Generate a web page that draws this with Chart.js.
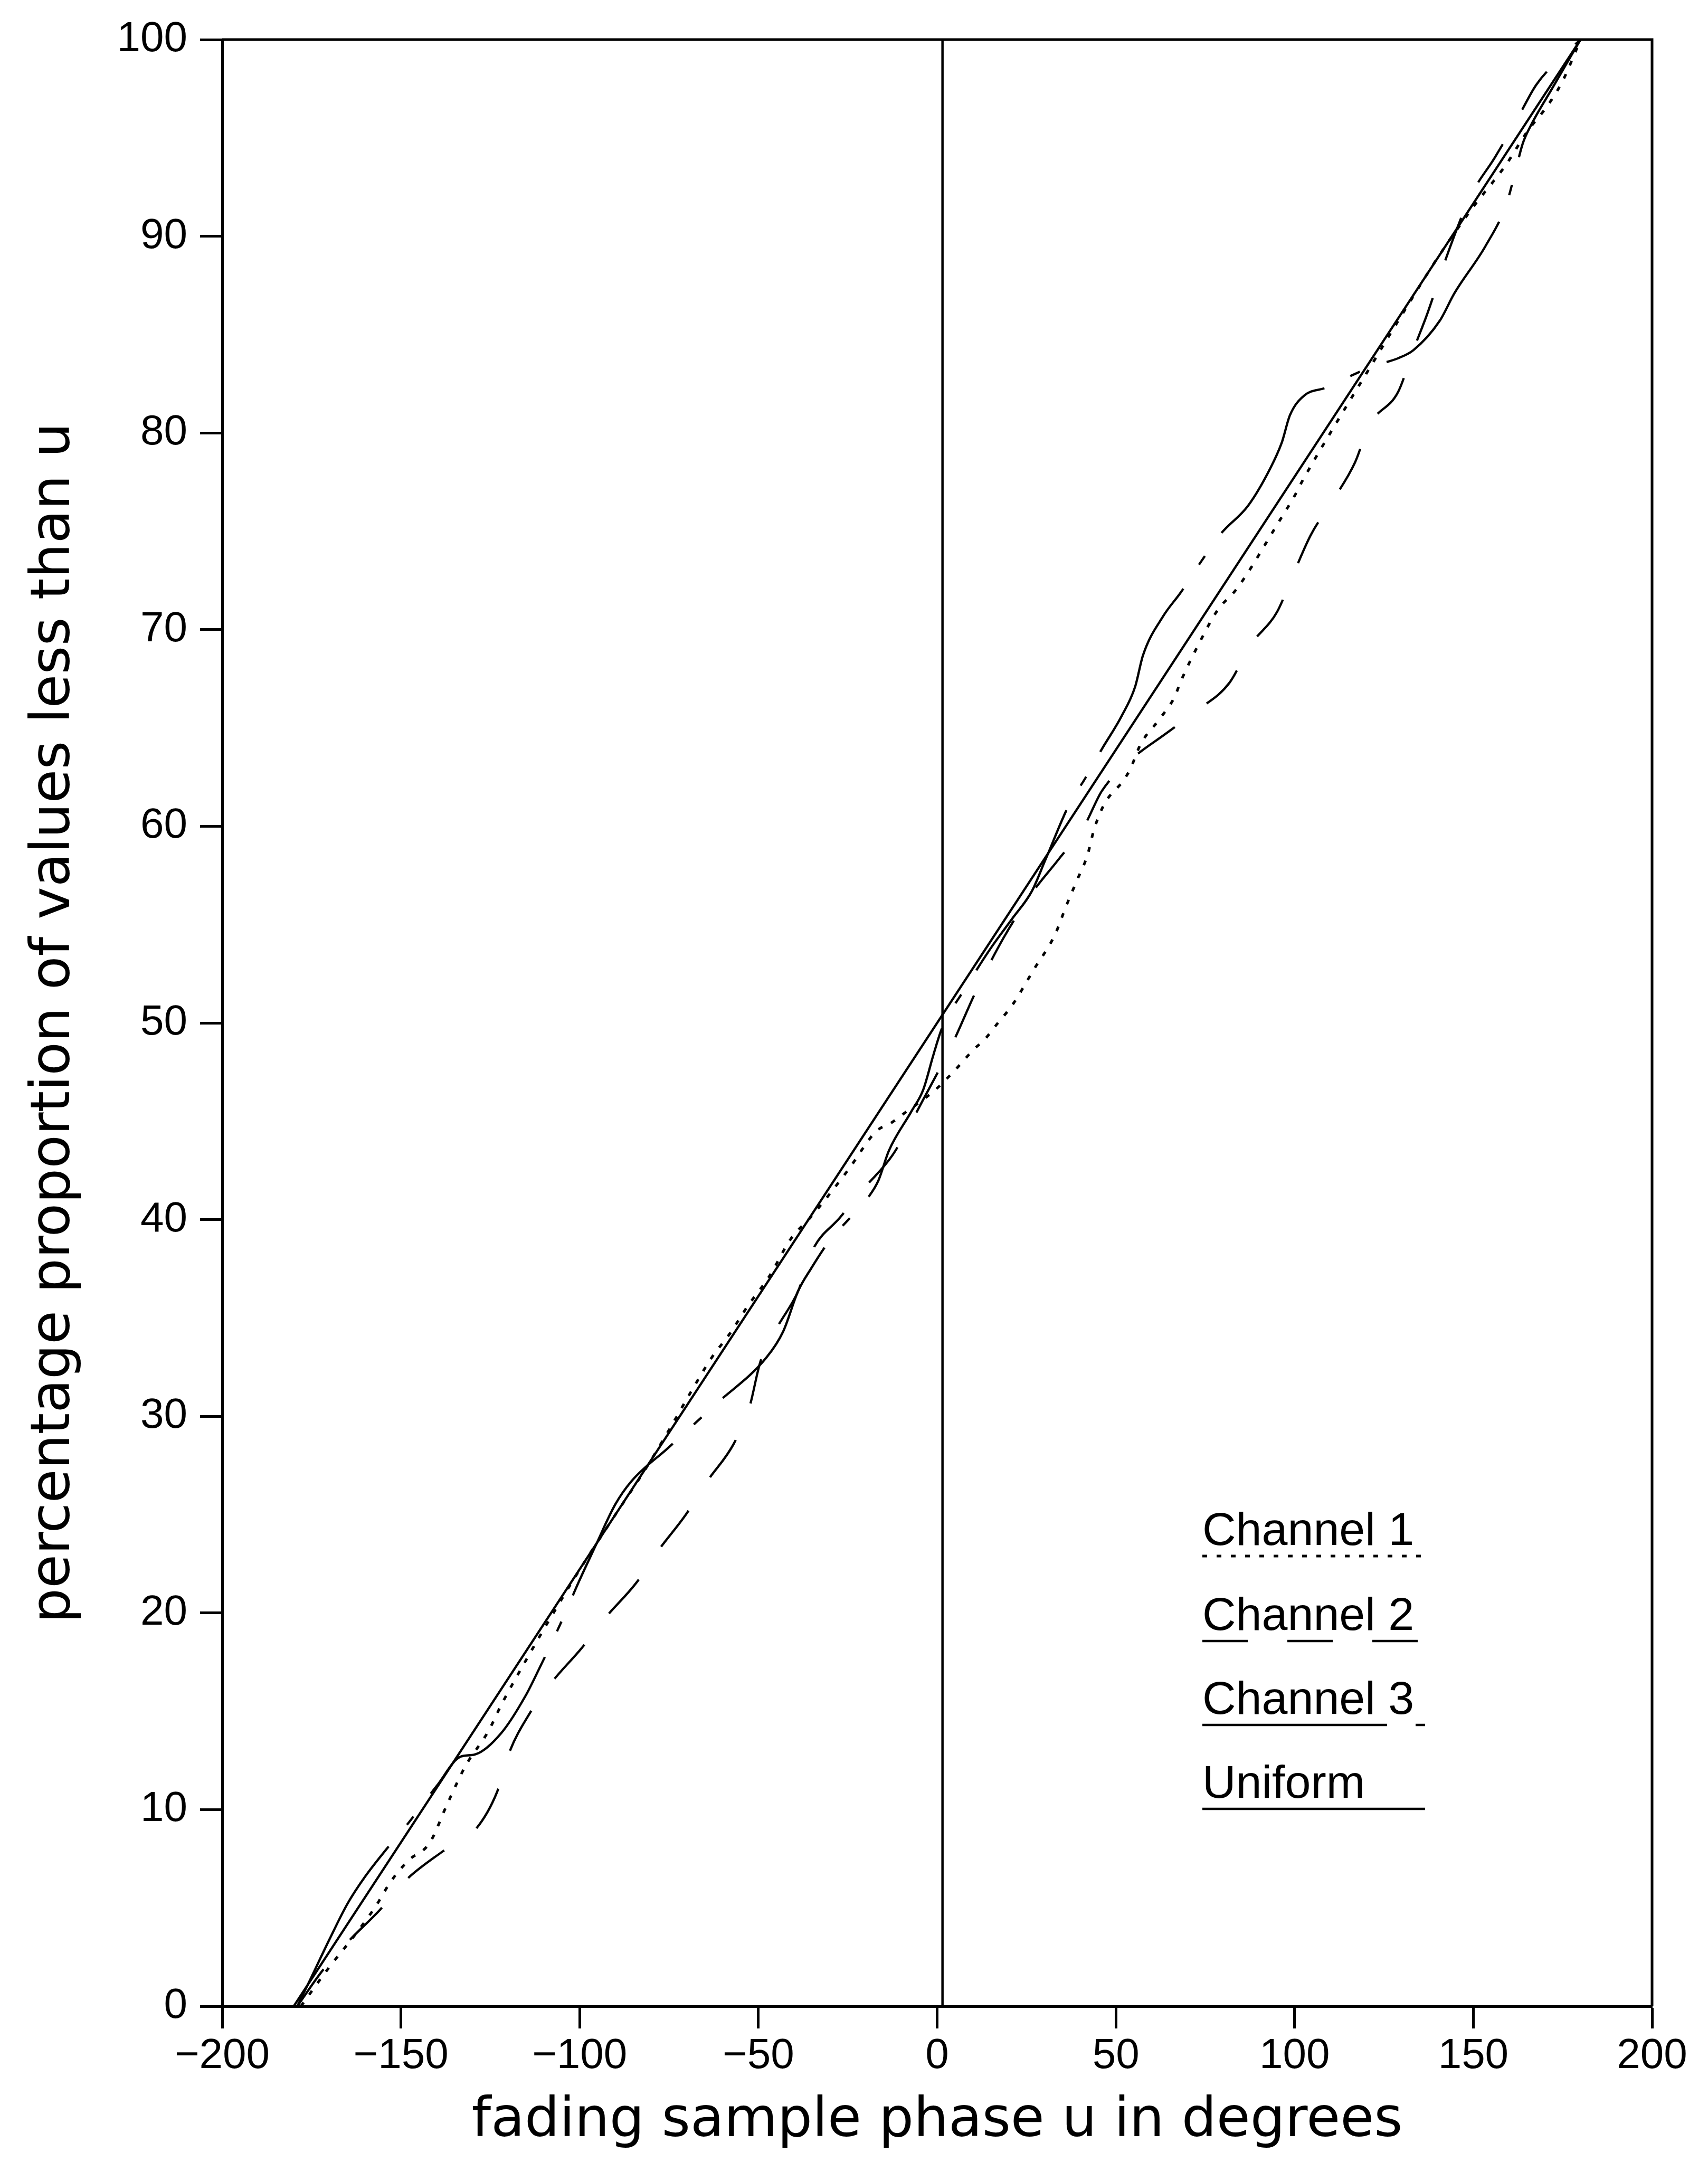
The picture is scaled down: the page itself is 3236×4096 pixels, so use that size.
<!DOCTYPE html>
<html>
<head>
<meta charset="utf-8">
<script src="https://cdn.jsdelivr.net/npm/chart.js@4.4.1/dist/chart.umd.min.js"></script>
<style>
  html, body { margin: 0; padding: 0; background: #fff; }
  canvas { display: block; }
</style>
</head>
<body>
<canvas id="phaseChart" width="3236" height="4096" style="width:3236px;height:4096px"></canvas>
<script>
// phase u (degrees) and percentage of values below u
var channel1U = [-178, -170, -163, -157, -153, -148, -142, -137, -132, -125.5, -122, -115, -108, -100, -90, -82, -75, -69, -63, -58, -53, -47, -41, -35, -25, -17, -13, -10, -0.5, 5, 10.5, 13, 17, 21, 27, 33, 36, 39, 42, 44, 47, 52, 54, 57, 62, 66.5, 68, 73, 78.5, 83.5, 88, 92, 96, 100, 102, 110, 120, 130, 140, 150, 159, 165, 171, 175, 180];
var channel1P = [0, 2.0, 3.6, 5.1, 6.3, 7.4, 8.3, 10.3, 12.2, 14.0, 15.3, 17.6, 19.8, 22.2, 25.0, 27.2, 29.3, 31.2, 33.0, 34.2, 35.6, 37.1, 39.0, 40.2, 42.5, 44.5, 44.9, 45.3, 46.6, 47.6, 48.7, 49.1, 50.0, 50.9, 52.7, 54.5, 55.9, 57.2, 58.5, 59.9, 61.2, 62.3, 62.9, 64.2, 65.4, 66.6, 67.3, 69.2, 71.0, 72.0, 73.2, 74.4, 75.6, 76.8, 77.5, 80.0, 83.0, 86.0, 88.9, 91.5, 93.6, 95.3, 96.7, 97.9, 100];

var channel2U = [-179, -172, -164.7, -155.9, -148.7, -138.9, -129.1, -123.1, -119.7, -114.3, -107.7, -99.5, -92.6, -84.3, -77.9, -70.3, -64.3, -56.9, -52.6, -49.4, -44.8, -38.8, -35, -27.2, -20.4, -12.4, -3.9, 4.4, 11.1, 18.5, 26.5, 33.9, 41.1, 46.1, 54.3, 63.9, 72.8, 81.8, 87.6, 95.1, 99.6, 104.5, 110.8, 116.9, 120.9, 129, 133.2, 137.2, 143, 149.4, 156, 161.8, 167.6, 174, 180];
var channel2P = [0, 1.8, 3.3, 4.9, 6.4, 7.8, 9.0, 10.9, 12.9, 14.8, 16.5, 18.2, 19.8, 21.5, 23.2, 25.0, 26.7, 28.6, 30.4, 32.8, 34.5, 36.4, 38.4, 40.1, 41.6, 43.3, 46.1, 49.0, 51.7, 54.3, 56.6, 58.3, 60.0, 61.8, 63.4, 64.7, 65.9, 67.3, 69.2, 70.9, 72.8, 74.8, 76.6, 78.5, 80.4, 82.1, 84.2, 86.1, 89.2, 92.1, 94.0, 95.8, 97.7, 99.0, 100];

var channel3U = [-179, -175, -170, -165, -160, -154, -148, -140, -133.2, -129.4, -121.9, -115.1, -111.5, -105, -100.2, -95.6, -90.1, -85.5, -75.2, -62, -47.7, -43.1, -38.8, -35.3, -30.2, -23.8, -19, -16.4, -13.5, -7.2, -3.9, -1, 1.3, 8, 15, 21, 26.5, 30.3, 37.2, 41.3, 46, 51.6, 55.4, 57.6, 63.3, 68.2, 74, 79.5, 87, 93.2, 96.4, 98.7, 102.7, 108.7, 114.5, 122, 129, 133.2, 140.6, 144.7, 153.4, 159.2, 161.5, 163.8, 166, 172, 180];
var channel3P = [0, 1.5, 3.4, 5.2, 6.6, 8.0, 9.3, 11.2, 12.7, 12.8, 13.9, 15.8, 17.1, 19.6, 21.6, 23.4, 25.5, 26.7, 28.4, 30.6, 33.0, 34.3, 36.4, 37.5, 38.9, 40.2, 41.2, 42.0, 43.5, 45.5, 46.6, 48.4, 49.7, 51.8, 53.8, 55.3, 56.7, 58.3, 61.2, 62.4, 63.9, 65.6, 67.1, 68.7, 70.7, 71.9, 73.5, 74.9, 76.3, 78.2, 79.5, 80.9, 81.9, 82.3, 82.8, 83.4, 83.8, 84.2, 85.7, 87.1, 89.5, 91.6, 93.1, 94.7, 95.6, 97.5, 100];

var uniformU = [-180, 180];
var uniformP = [0, 100];

var zeroLineU = [1.5, 1.5];
var zeroLineP = [0, 100];

var xTickValues = [-200, -150, -100, -50, 0, 50, 100, 150, 200];
var yTickValues = [0, 10, 20, 30, 40, 50, 60, 70, 80, 90, 100];

function toPoints(us, ps) {
    return us.map(function (u, i) { return {x: u, y: ps[i]}; });
}

function lineSet(label, us, ps, dash, width) {
    return {
        label: label,
        data: toPoints(us, ps),
        showLine: true,
        fill: false,
        borderColor: "#000",
        borderWidth: width,
        borderDash: dash,
        pointRadius: 0,
        cubicInterpolationMode: "monotone"
    };
}

function tickText(v) {
    return v < 0 ? "\u2212" + Math.abs(v) : String(v);
}

var framePlugin = {
    id: "frame",
    afterDraw: function (chart) {
        var a = chart.chartArea, c = chart.ctx;
        c.save();
        c.strokeStyle = "#000";
        c.lineWidth = 5;
        c.beginPath();
        c.moveTo(a.left, a.top);
        c.lineTo(a.right, a.top);
        c.lineTo(a.right, a.bottom);
        c.stroke();
        c.restore();
    }
};

// legend: name with a sample of the line style underneath
var legendPlugin = {
    id: "underlineLegend",
    afterDraw: function (chart) {
        var c = chart.ctx;
        var x0 = 2278, x1 = 2700;
        var baselines = [2927, 3088, 3247, 3406];
        c.save();
        c.fillStyle = "#000";
        c.strokeStyle = "#000";
        c.font = "88px 'Liberation Sans'";
        c.textBaseline = "alphabetic";
        chart.data.datasets.forEach(function (ds) {
            if (!ds.inLegend) return;
            var y = baselines[ds.inLegend - 1];
            c.fillText(ds.label, x0, y);
            c.lineWidth = ds.borderWidth;
            c.setLineDash(ds.borderDash);
            c.beginPath();
            c.moveTo(x0, y + 21);
            c.lineTo(x1, y + 21);
            c.stroke();
        });
        c.restore();
    }
};

Chart.defaults.font.family = "'Liberation Sans'";
Chart.defaults.color = "#000";

var ch1 = lineSet("Channel 1", channel1U, channel1P, [9, 18], 5);
ch1.inLegend = 1;
var ch2 = lineSet("Channel 2", channel2U, channel2P, [86, 75], 4.3);
ch2.inLegend = 2;
var ch3 = lineSet("Channel 3", channel3U, channel3P, [350, 54, 20, 54], 4.3);
ch3.inLegend = 3;
var uni = lineSet("Uniform", uniformU, uniformP, [], 4.3);
uni.inLegend = 4;
var zero = lineSet("zero", zeroLineU, zeroLineP, [], 4.5);

var ctx = document.getElementById("phaseChart").getContext("2d");
var myChart = new Chart(ctx, {
    type: "scatter",
    data: {
        datasets: [ch1, ch2, ch3, uni, zero]
    },
    options: {
        responsive: false,
        animation: false,
        devicePixelRatio: 1,
        layout: { padding: { top: 75, right: 106, left: 0, bottom: 0 } },
        plugins: {
            legend: { display: false },
            tooltip: { enabled: false }
        },
        scales: {
            x: {
                type: "linear",
                min: -200,
                max: 200,
                afterBuildTicks: function (scale) {
                    scale.ticks = xTickValues.map(function (v) { return {value: v}; });
                },
                afterFit: function (scale) { scale.height = 295; },
                ticks: {
                    callback: tickText,
                    font: { size: 80 },
                    color: "#000",
                    padding: 5,
                    maxRotation: 0,
                    autoSkip: false
                },
                grid: { drawOnChartArea: false, drawTicks: true, tickLength: 42, tickWidth: 5, tickColor: "#000" },
                border: { display: true, color: "#000", width: 5 },
                title: {
                    display: true,
                    text: "fading sample phase u in degrees",
                    font: { family: "'DejaVu Sans'", size: 104 },
                    color: "#000",
                    padding: { top: 0, bottom: 14 }
                }
            },
            y: {
                type: "linear",
                min: 0,
                max: 100,
                afterBuildTicks: function (scale) {
                    scale.ticks = yTickValues.map(function (v) { return {value: v}; });
                },
                afterFit: function (scale) { scale.width = 421; },
                ticks: {
                    callback: tickText,
                    font: { size: 80 },
                    color: "#000",
                    padding: 24,
                    autoSkip: false
                },
                grid: { drawOnChartArea: false, drawTicks: true, tickLength: 42, tickWidth: 5, tickColor: "#000" },
                border: { display: true, color: "#000", width: 5 },
                title: {
                    display: true,
                    text: "percentage proportion of values less than u",
                    font: { family: "'DejaVu Sans'", size: 104 },
                    color: "#000",
                    padding: { top: 42, bottom: 0 }
                }
            }
        }
    },
    plugins: [framePlugin, legendPlugin]
});
</script>
</body>
</html>
